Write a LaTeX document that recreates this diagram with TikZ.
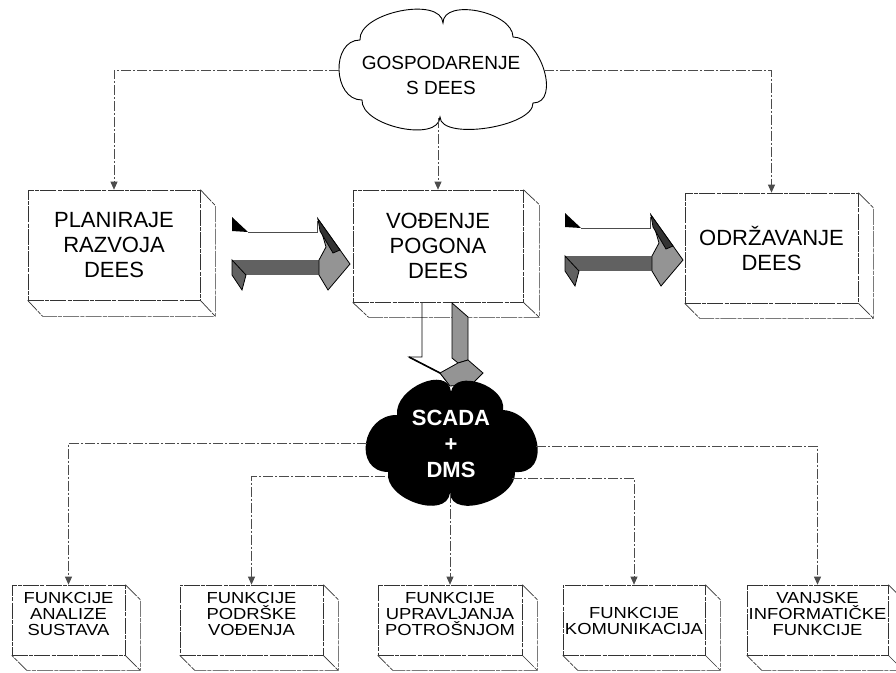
\documentclass[tikz,border=0pt]{standalone}
\usepackage{fontspec}
\setmainfont{Liberation Sans}
\newfontfamily\widefont[FakeStretch=1.15]{Liberation Sans}
\usetikzlibrary{calc,arrows.meta}

% one puff of a cloud: from #1 through the outermost point #2 to #3
\newcommand\lobe[3]{.. controls ($1/3*(#1)+4/3*(#2)-2/3*(#3)$) and ($1/3*(#3)+4/3*(#2)-2/3*(#1)$) .. (#3)}

% visible side and bottom faces of a box node
\newcommand\boxfaces[3]{%
  \draw[boxedge] (#1.north east) -- ($(#1.north east)+(#2,#3)$) -- ($(#1.south east)+(#2,#3)$)
     -- ($(#1.south west)+(#2,#3)$) -- (#1.south west);
  \draw[boxedge] (#1.south east) -- ($(#1.south east)+(#2,#3)$);}

% folded ribbon arrow pointing right
\newcommand\ribbonarrow[1]{%
  \begin{scope}[shift={#1}]
    \fill[ribbondark] (0,43) rectangle (87,58);
    \filldraw[ribbondark,ribbonedge] (0,43) -- (14,58) -- (10,73) -- (0,58) -- cycle;
    \fill[black] (0,0) -- (16,15) -- (0,14) -- cycle;
    \draw[black!70,line width=0.6pt] (16,15) -- (85,15) -- (85,4);
    \filldraw[ribbonmid,ribbonedge] (86,2) -- (118,47) -- (96,73) -- (87,58) -- (87,43) -- (94,30) -- cycle;
    \filldraw[black!80,ribbonedge] (86,2) -- (108,33) -- (101,36) -- (88,14) -- cycle;
  \end{scope}}

\begin{document}
\begin{tikzpicture}[x=1pt,y=-1pt,
  boxedge/.style={draw=black!80,line width=0.7pt,dash pattern=on 16pt off 1.2pt on 4pt off 1.2pt},
  conn/.style={draw=black!70,line width=0.7pt,dash pattern=on 10pt off 2pt on 2pt off 2pt,
               -{Triangle[length=8pt,width=7pt]}},
  bigbox/.style={boxedge,fill=white,inner sep=0pt,minimum height=110pt,align=center,
                 font=\fontsize{22}{25}\selectfont},
  smallbox/.style={boxedge,fill=white,inner sep=0pt,minimum height=70pt},
  smalltext/.style={align=center,inner sep=0pt,font=\widefont\fontsize{16}{16}\selectfont},
  cloudline/.style={draw=black,line width=0.9pt},
  ribbondark/.style={fill=black!62},
  ribbonmid/.style={fill=black!42},
  ribbonedge/.style={draw=black,line width=0.8pt},
]
\useasboundingbox (0,0) rectangle (896,672);
\fill[white] (0,0) rectangle (896,672);

% ---- top cloud
\draw[cloudline,fill=white] (360,40) \lobe{360,40}{400,11}{443,23} \lobe{443,23}{478,11}{513,37}
  \lobe{513,37}{544,70}{533,103} \lobe{533,103}{487,128}{440,117}
  \lobe{440,117}{400,128}{362,100} \lobe{362,100}{339,70}{360,40} -- cycle;
\node[align=center,inner sep=0pt,font=\fontsize{19}{25}\selectfont] (gosp) at (441,75) {GOSPODARENJE\\S DEES};
\coordinate (gosp-w) at (339,70);
\coordinate (gosp-e) at (544,70);
\coordinate (gosp-s) at (438,118);

% ---- upper boxes
\node[bigbox,minimum width=172pt] (plan) at (114,245) {PLANIRAJE\\RAZVOJA\\DEES};
\boxfaces{plan}{15}{16}
\node[bigbox,minimum width=170pt,minimum height=112pt] (vod) at (438,246) {VOĐENJE\\POGONA\\DEES};
\boxfaces{vod}{16}{15}
\node[bigbox,minimum width=173pt] (odr) at (771.5,248) {ODRŽAVANJE\\DEES};
\boxfaces{odr}{15}{15}

\draw[conn] (gosp-w) -| (plan.north);
\draw[conn] (gosp-e) -| (odr.north);
\draw[conn] (gosp-s) -- (vod.north);

% ---- ribbon arrows between the upper boxes
\ribbonarrow{(232,217)}
\ribbonarrow{(565,213)}

% ---- ribbon arrow down to SCADA
\filldraw[ribbonmid,ribbonedge] (452,303) -- (468,317) -- (468,360) -- (458,363) -- (452,358) -- cycle;
\draw[ribbonedge] (422,303) -- (422,357) -- (409,357) -- (440,373) -- (450,386);
\filldraw[ribbonmid,ribbonedge] (440,373) -- (458,363) -- (468,360) -- (483,373) -- (472,384) -- (450,386) -- cycle;
\draw[black,line width=1.6pt] (409,357) -- (440,373);

% ---- SCADA cloud
\fill[black] (397,415) \lobe{397,415}{422,383}{451,392} \lobe{451,392}{480,383}{503,410}
  \lobe{503,410}{537,443}{515,472} \lobe{515,472}{484,503}{450,493}
  \lobe{450,493}{416,503}{388,472} \lobe{388,472}{366,443}{397,415} -- cycle;
\node[align=center,inner sep=0pt,text=white,font=\bfseries\fontsize{22}{26}\selectfont] (scada) at (451,444) {SCADA\\+\\DMS};
\coordinate (sc-w1) at (367,443);
\coordinate (sc-w2) at (385,476);
\coordinate (sc-s) at (450,493);
\coordinate (sc-e2) at (512,478);
\coordinate (sc-e1) at (536,446);

% ---- lower boxes
\node[smallbox,minimum width=113pt] (f1) at (68.5,620) {};
\boxfaces{f1}{15}{15}
\node[smallbox,minimum width=143pt] (f2) at (251.5,620) {};
\boxfaces{f2}{15}{15}
\node[smallbox,minimum width=144pt] (f3) at (450,620) {};
\boxfaces{f3}{15}{15}
\node[smallbox,minimum width=142pt] (f4) at (634,620) {};
\boxfaces{f4}{15}{15}
\node[smallbox,minimum width=141pt] (f5) at (817.5,620) {};
\boxfaces{f5}{15}{15}

\node[smalltext] (t1) at (68.5,614) {FUNKCIJE\\ANALIZE\\SUSTAVA};
\node[smalltext] (t2) at (251.5,614) {FUNKCIJE\\PODRŠKE\\VOĐENJA};
\node[smalltext] (t3) at (450,614) {FUNKCIJE\\UPRAVLJANJA\\POTROŠNJOM};
\node[smalltext] (t4) at (634,621) {FUNKCIJE\\KOMUNIKACIJA};
\node[smalltext] (t5) at (817.5,614) {VANJSKE\\INFORMATIČKE\\FUNKCIJE};

\draw[conn] (sc-w1) -| (f1.north);
\draw[conn] (sc-w2) -| (f2.north);
\draw[conn] (sc-s) -- (f3.north);
\draw[conn] (sc-e2) -| (f4.north);
\draw[conn] (sc-e1) -| (f5.north);
\end{tikzpicture}
\end{document}
